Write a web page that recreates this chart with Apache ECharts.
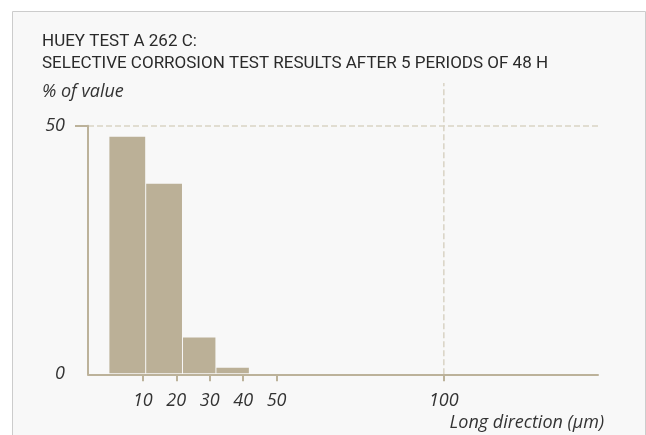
<!DOCTYPE html>
<html>
<head>
<meta charset="utf-8">
<script src="https://cdn.jsdelivr.net/npm/echarts@6/dist/echarts.min.js"></script>
<style>
html,body{margin:0;padding:0;background:#fff;}
#chart{width:646px;height:435px;}
</style>
</head>
<body>
<div id="chart"></div>
<script>
// ---- data ----
var titleLines = ['HUEY TEST A 262 C:', 'SELECTIVE CORROSION TEST RESULTS AFTER 5 PERIODS OF 48 H'];
var yAxisName = '% of value';
var xAxisName = 'Long direction (µm)';
var binStart = [0, 11, 22, 32];
var binEnd = [11, 22, 32, 42];
var binValues = [47.8, 38.3, 7.4, 1.3];
var xTickValues = [10, 20, 30, 40, 50, 100];
var yTickValues = [0, 50];
var refLineX = [100];
var refLineTop = [58.6];

var chart = echarts.init(document.getElementById('chart'), null, {renderer: 'canvas'});
var tan = '#bcb29a';
var dash = '#d9d3c4';
var labelFont = 'Open Sans';

var barData = binValues.map(function (v, i) { return [binStart[i], binEnd[i], v]; });
var refData = refLineX.map(function (x, i) { return [x, 0, refLineTop[i]]; });

var option = {
  backgroundColor: '#fff',
  animation: false,
  graphic: [{
    type: 'rect', left: 12, top: 11, z: -10, silent: true,
    shape: {width: 633, height: 440},
    style: {fill: '#f8f8f8', stroke: '#cccccc', lineWidth: 1}
  }, {
    type: 'text', left: 42, top: 83, silent: true,
    style: {text: yAxisName, font: 'italic 18px "Open Sans"', fill: '#333'}
  }, {
    type: 'text', right: 42, top: 414, silent: true,
    style: {text: xAxisName, font: 'italic 18px "Open Sans"', fill: '#333'}
  }],
  title: {
    text: titleLines.join('\n'),
    left: 37, top: 25,
    textStyle: {fontFamily: 'Roboto', fontWeight: 'normal', fontSize: 17, lineHeight: 22.5, color: '#2a2a2a'}
  },
  grid: {left: 88, right: 48, top: 125.7, bottom: 60.7, containLabel: false},
  xAxis: {
    type: 'value', min: -6.4, max: 146.1,
    axisLine: {show: true, onZero: false, lineStyle: {color: tan, width: 2}},
    axisTick: {show: true, customValues: xTickValues, length: 7, lineStyle: {color: tan, width: 2}},
    axisLabel: {customValues: xTickValues, margin: 18, fontFamily: labelFont, fontStyle: 'italic', fontSize: 18, color: '#333'},
    splitLine: {show: false}
  },
  yAxis: {
    type: 'value', min: 0, max: 50, interval: 50,
    axisLine: {show: true, onZero: false, lineStyle: {color: tan, width: 2}},
    axisTick: {show: true, customValues: [50], length: 13, lineStyle: {color: tan, width: 2}},
    axisLabel: {customValues: yTickValues, margin: 23, fontFamily: labelFont, fontStyle: 'italic', fontSize: 18, color: '#333'},
    splitLine: {show: true, lineStyle: {color: dash, width: 1.5, type: [6, 3]}}
  },
  series: [{
    type: 'custom',
    z: 1,
    renderItem: function (params, api) {
      var p0 = api.coord([api.value(0), 0]);
      var p1 = api.coord([api.value(1), api.value(2)]);
      return {
        type: 'rect',
        shape: {x: p0[0], y: p1[1], width: p1[0] - p0[0] - 1, height: p0[1] - p1[1] - 1},
        style: {fill: '#bbb097'}
      };
    },
    encode: {x: [0, 1], y: 2},
    data: barData
  }, {
    type: 'custom',
    z: 0,
    clip: false,
    renderItem: function (params, api) {
      var a = api.coord([api.value(0), api.value(1)]);
      var b = api.coord([api.value(0), api.value(2)]);
      return {
        type: 'line',
        shape: {x1: a[0], y1: a[1], x2: b[0], y2: b[1]},
        style: {stroke: dash, lineWidth: 1.5, lineDash: [6, 3]}
      };
    },
    encode: {x: 0, y: [1, 2]},
    data: refData
  }]
};
chart.setOption(option);
</script>
</body>
</html>
